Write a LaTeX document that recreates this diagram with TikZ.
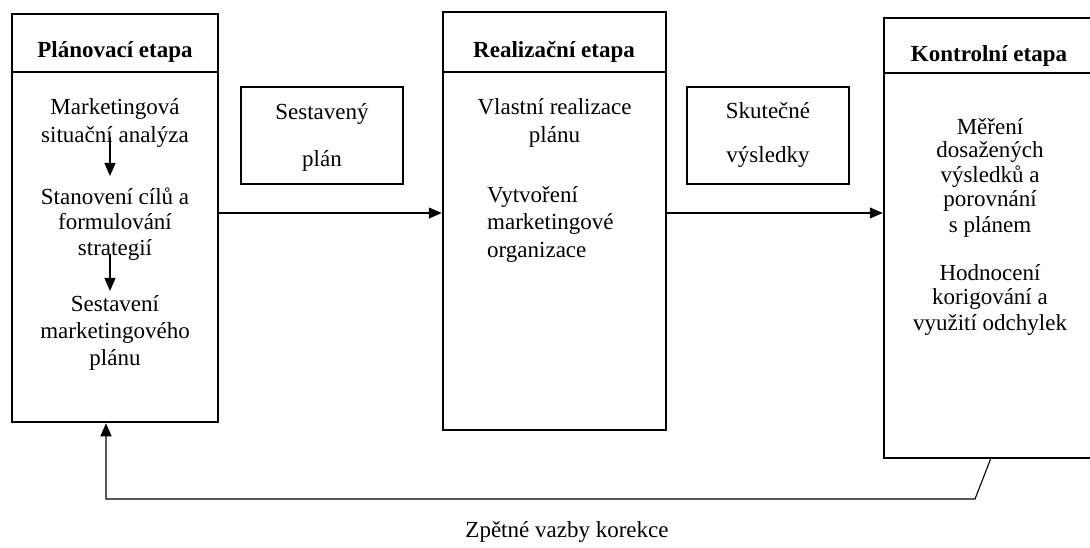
\documentclass[tikz,border=0pt]{standalone}
\usepackage{fontspec}
\setmainfont{Liberation Serif}
\usetikzlibrary{arrows.meta}
\begin{document}
\begin{tikzpicture}[x=1pt,y=-1pt,
  every node/.style={font=\fontsize{23}{27}\selectfont, inner sep=0pt},
  stage/.style={draw, line width=2.5pt, rectangle},
  small/.style={draw, line width=1.3pt, rectangle, minimum width=162pt, minimum height=97pt},
  txt/.style={anchor=base},
  ltxt/.style={anchor=base west},
  hdr/.style={anchor=base, font=\fontsize{23}{27}\selectfont\bfseries},
  conn/.style={line width=1.1pt, -{Triangle[length=13pt,width=11pt]}},
  divider/.style={line width=2.5pt}
  ]
\useasboundingbox (0,0) rectangle (1090,548);
% stage boxes
\node[stage, minimum width=206pt, minimum height=408pt] (p1) at (115,218) {};
\node[stage, minimum width=223pt, minimum height=418pt] (p2) at (554.5,221) {};
\node[stage, minimum width=213pt, minimum height=440pt] (p3) at (990.5,238) {};
% header dividers
\coordinate (h1) at (0,72);
\coordinate (h3) at (0,73);
\draw[divider] (p1.west |- h1) -- (p1.east |- h1);
\draw[divider] (p2.west |- h1) -- (p2.east |- h1);
\draw[divider] (p3.west |- h3) -- (p3.east |- h3);
% headers
\node[hdr] (hd1) at (115,58) {Plánovací etapa};
\node[hdr] (hd2) at (554,58) {Realizační etapa};
\node[hdr] (hd3) at (989,62) {Kontrolní etapa};
% box 1 content
\node[txt] (t1a) at (115,115) {Marketingová};
\node[txt] (t1b) at (115,143) {situační analýza};
\node[txt] (t1c) at (115,205) {Stanovení cílů a};
\node[txt] (t1d) at (115,230) {formulování};
\node[txt] (t1e) at (115,255) {strategií};
\node[txt] (t1f) at (115,312) {Sestavení};
\node[txt] (t1g) at (115,338) {marketingového};
\node[txt] (t1h) at (115,365) {plánu};
\coordinate (a1s) at (110,137);
\coordinate (a1e) at (110,176);
\coordinate (a2s) at (110,254);
\coordinate (a2e) at (110,291);
\draw[conn] (a1s) -- (a1e);
\draw[conn] (a2s) -- (a2e);
% box 2 content
\node[txt] (t2a) at (554.5,115) {Vlastní realizace};
\node[txt] (t2b) at (554.5,143) {plánu};
\node[ltxt] (t2c) at (487,203) {Vytvoření};
\node[ltxt] (t2d) at (487,230) {marketingové};
\node[ltxt] (t2e) at (487,258) {organizace};
% box 3 content
\node[txt] (t3a) at (990,135) {Měření};
\node[txt] (t3b) at (990,158) {dosažených};
\node[txt] (t3c) at (990,183) {výsledků a};
\node[txt] (t3d) at (990,207) {porovnání};
\node[txt] (t3e) at (990,233) {s plánem};
\node[txt] (t3f) at (990,280) {Hodnocení};
\node[txt] (t3g) at (990,305) {korigování a};
\node[txt] (t3h) at (990,330) {využití odchylek};
% small boxes
\node[small] (sp) at (322,135.5) {};
\node[txt] (spa) at (322,120) {Sestavený};
\node[txt] (spb) at (322,167) {plán};
\node[small] (sv) at (768,135.5) {};
\node[txt] (sva) at (768,119) {Skutečné};
\node[txt] (svb) at (768,163) {výsledky};
% main arrows
\coordinate (m) at (0,213);
\draw[conn] (p1.east |- m) -- (p2.west |- m);
\draw[conn] (p2.east |- m) -- (p3.west |- m);
% feedback
\coordinate (fb1) at (975,499);
\coordinate (fb2) at (106,499);
\draw[conn] (p3.south) -- (fb1) -- (fb2) -- (fb2 |- p1.south);
\node[txt] (cap) at (567,537) {Zpětné vazby korekce};
\end{tikzpicture}
\end{document}
